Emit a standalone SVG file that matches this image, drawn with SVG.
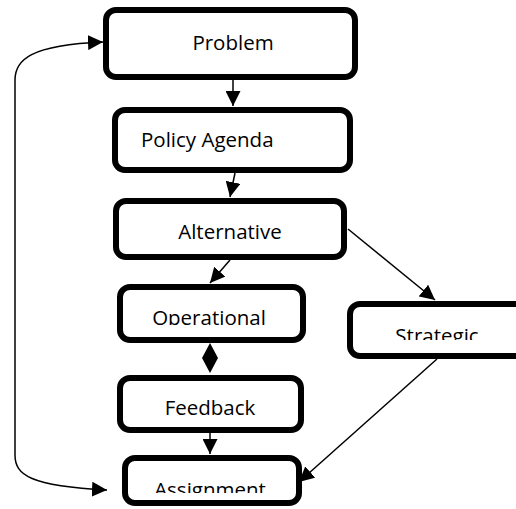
<svg xmlns="http://www.w3.org/2000/svg" width="516" height="509" viewBox="0 0 516 509">
<style>
.box{fill:#fff;stroke:#000;stroke-width:6}
.lbl{font-family:"Open Sans","Noto Sans",sans-serif;font-size:20.5px;fill:#000;text-anchor:middle}
.conn{fill:none;stroke:#000;stroke-width:1.5}
</style>
<defs>
<marker id="ah" markerUnits="userSpaceOnUse" markerWidth="16" markerHeight="15" refX="15" refY="7.5" orient="auto-start-reverse">
<path d="M0,0 L15,7.5 L0,15 z" fill="#000"/>
</marker>
<clipPath id="cOp"><rect x="120" y="287" width="183" height="38"/></clipPath>
<clipPath id="cSt"><rect x="350" y="304" width="166" height="36"/></clipPath>
<clipPath id="cAs"><rect x="125" y="458" width="174" height="35"/></clipPath>
</defs>
<rect width="516" height="509" fill="#fff"/>
<g id="connectors">
<line class="conn" x1="233" y1="80" x2="233" y2="106" marker-end="url(#ah)"/>
<line class="conn" x1="235" y1="173" x2="230" y2="197" marker-end="url(#ah)"/>
<line class="conn" x1="230" y1="260" x2="210" y2="283" marker-end="url(#ah)"/>
<line class="conn" x1="348" y1="229" x2="435" y2="300" marker-end="url(#ah)"/>
<polygon points="210,343 218,358 210,373 202,358" fill="#000"/>
<line class="conn" x1="210" y1="433" x2="210" y2="454" marker-end="url(#ah)"/>
<line class="conn" x1="437" y1="359" x2="299" y2="482" marker-end="url(#ah)"/>
<path class="conn" d="M103,42 C30,45 15,60 15,80 L15,455 C15,475 30,486 107,490" marker-start="url(#ah)" marker-end="url(#ah)"/>
</g>
<g id="problem">
<rect class="box" x="106" y="10" width="249" height="67" rx="10"/>
<text class="lbl" x="233" y="50">Problem</text>
</g>
<g id="policy-agenda">
<rect class="box" x="115" y="110" width="235" height="60" rx="10"/>
<text class="lbl" x="141" y="147" style="text-anchor:start">Policy Agenda</text>
</g>
<g id="alternative">
<rect class="box" x="116" y="201" width="228" height="56" rx="10"/>
<text class="lbl" x="230" y="239">Alternative</text>
</g>
<g id="operational">
<rect class="box" x="120" y="287" width="183" height="53" rx="10"/>
<text class="lbl" x="209" y="325" clip-path="url(#cOp)">Operational</text>
</g>
<g id="strategic">
<rect class="box" x="350" y="304" width="200" height="52" rx="10"/>
<text class="lbl" x="437" y="343" clip-path="url(#cSt)">Strategic</text>
</g>
<g id="feedback">
<rect class="box" x="120" y="378" width="181" height="52" rx="10"/>
<text class="lbl" x="210" y="415">Feedback</text>
</g>
<g id="assignment">
<rect class="box" x="125" y="458" width="174" height="45" rx="10"/>
<text class="lbl" x="210" y="497" clip-path="url(#cAs)">Assignment</text>
</g>
</svg>
